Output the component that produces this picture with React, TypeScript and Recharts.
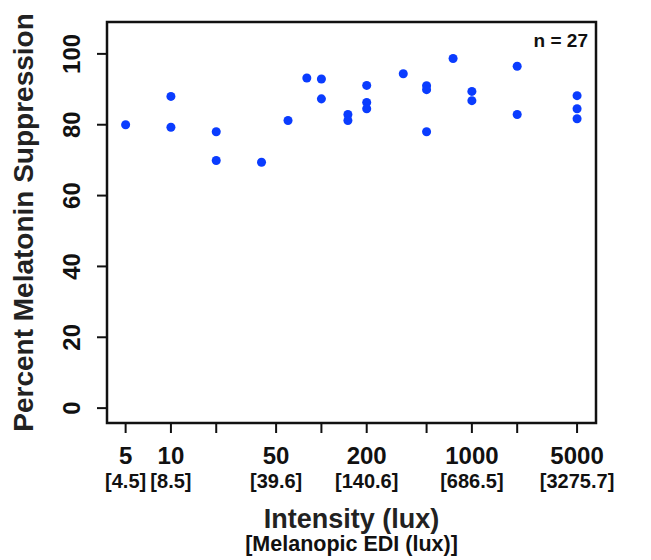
import { ScatterChart, Scatter, XAxis, YAxis, ReferenceArea, Label } from 'recharts';

// light intensity (lux) per participant and percent melatonin suppression
const intensity = [5, 10, 10, 20, 20, 40, 60, 80, 100, 100, 150, 150, 200, 200, 200, 350, 500, 500, 500, 750, 1000, 1000, 2000, 2000, 5000, 5000, 5000];
const suppression = [80.0, 88.0, 79.3, 78.0, 69.9, 69.4, 81.2, 93.2, 92.9, 87.3, 82.9, 81.2, 91.1, 86.3, 84.5, 94.4, 91.0, 89.9, 78.0, 98.7, 89.4, 86.8, 96.5, 82.9, 88.2, 84.5, 81.7];

const xTicks = [5, 10, 20, 50, 100, 200, 500, 1000, 2000, 5000];
const labeledTicks = [5, 10, 50, 200, 1000, 5000];
const ediLabels = ['[4.5]', '[8.5]', '[39.6]', '[140.6]', '[686.5]', '[3275.7]'];
const yTicks = [0, 20, 40, 60, 80, 100];

const xDomain = [3.76, 6680];
const yDomain = [-4.2, 109];

const points = intensity.map((x, i) => ({ x, y: suppression[i] }));

const font = '"Liberation Sans", Arial, Helvetica, sans-serif';
const ink = '#111';

function XTick(props: any) {
  const { x, y, payload } = props;
  const i = labeledTicks.indexOf(payload.value);
  if (i < 0) return <g />;
  return (
    <g>
      <text x={x} y={y + 31} textAnchor="middle" fontSize={24} fontWeight="bold" fontFamily={font} fill={ink}>
        {payload.value}
      </text>
      <text x={x} y={y + 55} textAnchor="middle" fontSize={20} fontWeight="bold" fontFamily={font} fill={ink}>
        {ediLabels[i]}
      </text>
    </g>
  );
}

function YTick(props: any) {
  const { x, y, payload } = props;
  return (
    <text
      x={x}
      y={y}
      transform={`rotate(-90, ${x}, ${y})`}
      textAnchor="middle"
      fontSize={24}
      fontWeight="bold"
      fontFamily={font}
      fill={ink}
    >
      {payload.value}
    </text>
  );
}

function XTitle(props: any) {
  const vb = props.viewBox || { x: 99, y: 415, width: 489 };
  const cx = vb.x + vb.width / 2;
  return (
    <g>
      <text x={cx} y={520} textAnchor="middle" fontSize={27} fontWeight="bold" fontFamily={font} fill="#222">
        Intensity (lux)
      </text>
      <text x={cx} y={543} textAnchor="middle" fontSize={21.5} fontWeight="bold" fontFamily={font} fill={ink}>
        [Melanopic EDI (lux)]
      </text>
    </g>
  );
}

function YTitle(props: any) {
  const vb = props.viewBox || { y: 14, height: 401 };
  const cy = vb.y + vb.height / 2;
  const cx = 25;
  return (
    <text
      x={cx}
      y={cy}
      transform={`rotate(-90, ${cx}, ${cy})`}
      textAnchor="middle"
      fontSize={28}
      fontWeight="bold"
      fontFamily={font}
      fill="#222"
    >
      Percent Melatonin Suppression
    </text>
  );
}

function CountLabel(props: any) {
  const vb = props.viewBox || { x: 99, y: 14, width: 489 };
  return (
    <text x={vb.x + vb.width - 8} y={vb.y + 25} textAnchor="end" fontSize={19} fontWeight="bold" fontFamily={font} fill={ink}>
      n = 27
    </text>
  );
}

export default function App() {
  return (
    <ScatterChart width={643} height={552} margin={{ top: 14, right: 55, bottom: 0, left: 0 }}>
      <XAxis
        dataKey="x"
        type="number"
        scale="log"
        domain={xDomain}
        allowDataOverflow
        ticks={xTicks}
        interval={0}
        axisLine={false}
        tickLine={{ stroke: ink, strokeWidth: 2 }}
        tickSize={10}
        tickMargin={0}
        height={137}
        tick={<XTick />}
      >
        <Label content={<XTitle />} />
      </XAxis>
      <YAxis
        dataKey="y"
        type="number"
        domain={yDomain}
        allowDataOverflow
        ticks={yTicks}
        interval={0}
        axisLine={false}
        tickLine={{ stroke: ink, strokeWidth: 2 }}
        tickSize={10}
        tickMargin={17}
        width={99}
        tick={<YTick />}
      >
        <Label content={<YTitle />} />
      </YAxis>
      <ReferenceArea
        x1={xDomain[0]}
        x2={xDomain[1]}
        y1={yDomain[0]}
        y2={yDomain[1]}
        fill="none"
        fillOpacity={0}
        stroke={ink}
        strokeWidth={2.5}
        label={<CountLabel />}
      />
      <Scatter data={points} fill="#0a3cff" isAnimationActive={false} />
    </ScatterChart>
  );
}
